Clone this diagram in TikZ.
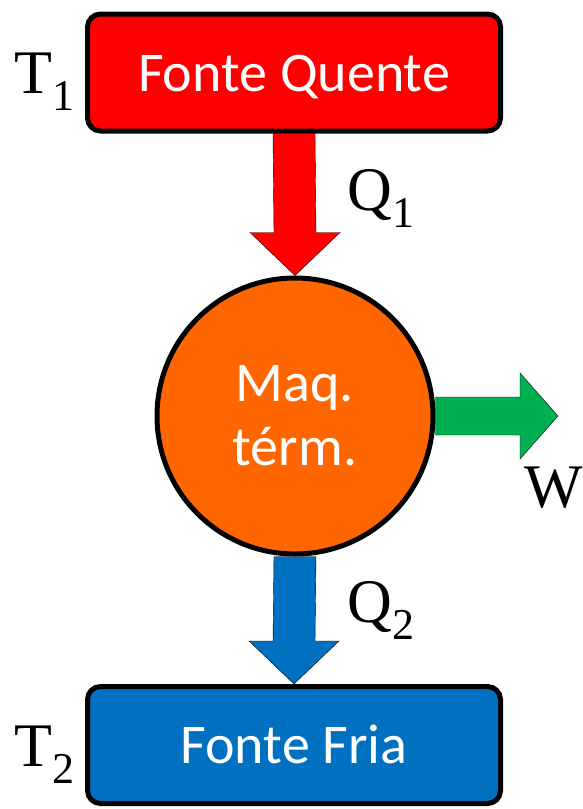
\documentclass[tikz,border=0pt]{standalone}
\usepackage{fontspec}
\setmainfont{Liberation Serif}
\newfontfamily\boxfont{Carlito}
\usetikzlibrary{calc,backgrounds}

\definecolor{hotred}{HTML}{FF0000}
\definecolor{enginecol}{HTML}{FF6600}
\definecolor{workgreen}{HTML}{00B050}
\definecolor{coldblue}{HTML}{0070C0}

% lowered index for T, Q
\newcommand\lsub[1]{\raisebox{-17pt}{\fontsize{44}{44}\selectfont #1}}

\begin{document}
\begin{tikzpicture}[
	x = 1pt, y = -1pt,
	line width = 5pt,
	source/.style = {draw, rounded corners = 13pt, minimum width = 413pt,
		minimum height = 117pt, inner sep = 0pt, text = white,
		text height = 37pt, text depth = 0pt,
		font = \boxfont\fontsize{56}{60}\selectfont},
	machine/.style = {draw, circle, minimum size = 276pt, inner sep = 0pt,
		fill = enginecol, text = white, align = center,
		font = \boxfont\fontsize{56}{64}\selectfont},
	flow/.style = {draw, line join = miter},
	lbl/.style = {inner sep = 0pt, anchor = base west,
		font = \fontsize{62}{62}\selectfont}
	]
	\useasboundingbox (0,0) rectangle (583,809);

	% reservoirs and engine
	\node[source, fill = hotred] (hot) at (294,72.5) {Fonte Quente};
	\node[machine] (engine) at (295,416) {Maq.\\térm.};
	\node[source, fill = coldblue] (cold) at (294,745) {Fonte Fria};

	% heat and work flows
	\begin{scope}[on background layer]
		\draw[flow, fill = hotred] ($(hot.south)+(-21,0)$)
			-- ($(engine.north)+(-21,-43)$) -- ($(engine.north)+(-45,-43)$)
			-- (engine.north)
			-- ($(engine.north)+(45,-43)$) -- ($(engine.north)+(21,-43)$)
			-- ($(hot.south)+(21,0)$) -- cycle;
		\coordinate (wtip) at (558,416);
		\draw[flow, fill = workgreen] ($(engine.east)+(0,-19)$)
			-- ($(wtip)+(-38,-19)$) -- ($(wtip)+(-38,-43)$)
			-- (wtip)
			-- ($(wtip)+(-38,43)$) -- ($(wtip)+(-38,19)$)
			-- ($(engine.east)+(0,19)$) -- cycle;
		\draw[flow, fill = coldblue] ($(engine.south)+(-21,0)$)
			-- ($(cold.north)+(-21,-43)$) -- ($(cold.north)+(-45,-43)$)
			-- (cold.north)
			-- ($(cold.north)+(45,-43)$) -- ($(cold.north)+(21,-43)$)
			-- ($(engine.south)+(21,0)$) -- cycle;
	\end{scope}

	% labels
	\node[lbl] (t1) at (12,93) {T\lsub{1}};
	\node[lbl] (q1) at (345,210) {Q\lsub{1}};
	\node[lbl] (w) at (522,507) {W};
	\node[lbl] (q2) at (345,622) {Q\lsub{2}};
	\node[lbl] (t2) at (12,766) {T\lsub{2}};
\end{tikzpicture}
\end{document}
